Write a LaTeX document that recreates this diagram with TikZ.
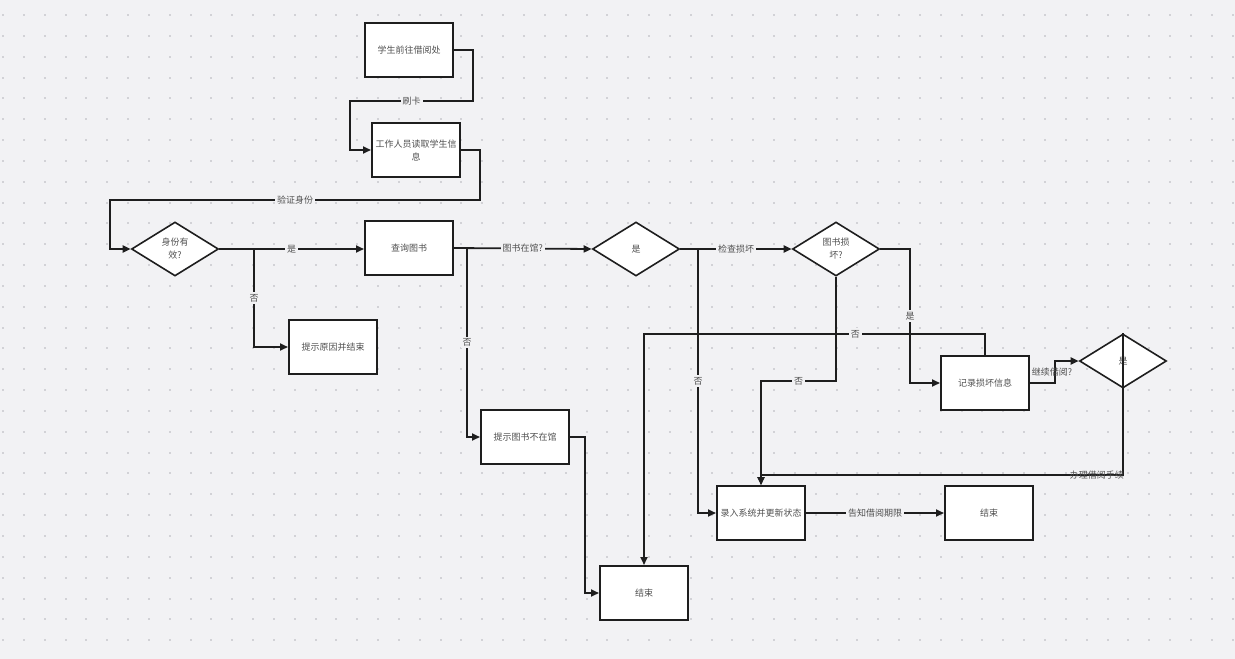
\documentclass[tikz,border=0pt]{standalone}
\usepackage{fontspec}
\newfontfamily\cjk{Noto Sans CJK SC}
\usetikzlibrary{shapes.geometric,arrows.meta}
\definecolor{bg}{HTML}{F2F2F4}
\definecolor{dotc}{HTML}{D2D2D6}
\definecolor{ink}{HTML}{1E1E1E}
\definecolor{txt}{HTML}{505050}

\begin{document}
\begin{tikzpicture}[x=1pt, y=-1pt, font=\cjk\fontsize{9}{13}\selectfont, text=txt,
    box/.style = {draw=ink, fill=white, line width=2pt, minimum width=88pt, minimum height=54pt, inner sep=1pt, align=center},
    dec/.style = {draw=ink, fill=white, diamond, line width=1.6pt, minimum width=87pt, minimum height=54pt, inner sep=0pt, align=center},
    lbl/.style = {fill=bg, inner sep=2pt},
    plain/.style = {inner sep=0pt},
    arr/.style = {draw=ink, line width=1.8pt, -{Triangle[length=8pt,width=7pt]}}]
            \useasboundingbox (0,0) rectangle (1235,659);
            \fill[bg] (0,0) rectangle (1235,659);
            \foreach \i in {0,...,59}
                \foreach \j in {0,...,30}
                    \fill[dotc] (2+20.84*\i, 14+20.84*\j) rectangle ++(2,2);
            % nodes
            \node[box] (go) at (409,50) {学生前往借阅处};
            \node[box] (read) at (416,150) {工作人员读取学生信\\息};
            \node[dec] (valid) at (175,249) {身份有\\效?};
            \node[box] (query) at (409,248) {查询图书};
            \node[box] (reason) at (333,347) {提示原因并结束};
            \node[dec] (inlib) at (636,249) {是};
            \node[box] (notin) at (525,437) {提示图书不在馆};
            \node[box] (end1) at (644,593) {结束};
            \node[dec] (broken) at (836,249) {图书损\\坏?};
            \node[box] (record) at (985,383) {记录损坏信息};
            \node[dec] (again) at (1123,361) {是};
            \node[box] (entry) at (761,513) {录入系统并更新状态};
            \node[box] (end2) at (989,513) {结束};
            % connectors
            \draw[arr] (go.east) -- (473,50) |- node[lbl, pos=0.75] {刷卡} (350,101) |- (read.west);
            \draw[arr] (read.east) -- (480,150) |- node[lbl, pos=0.75] {验证身份} (110,200) |- (valid.west);
            \draw[arr] (valid.east) -- node[lbl] {是} (query.west |- valid.east);
            \draw[arr] (valid.east) -- (254,249) |- node[lbl, pos=0.25] {否} (reason.west);
            \draw[arr] (query.east) -- node[lbl] {图书在馆?} (inlib.west);
            \draw[arr] (query.east) -- (467,248) |- node[lbl, pos=0.25] {否} (notin.west);
            \draw[arr] (notin.east) -- (585,437) |- (end1.west);
            \draw[arr] (inlib.east) -- node[lbl] {检查损坏} (broken.west);
            \draw[arr] (inlib.east) -- (698,249) |- node[lbl, pos=0.25] {否} (entry.west);
            \draw[arr] (broken.east) -- (910,249) |- node[lbl, pos=0.25] {是} (record.west);
            \draw[arr] (broken.south) |- node[lbl, pos=0.75] {否} (entry.north |- 0,381) -- (entry.north);
            \draw[arr] (record.north) |- node[lbl, pos=0.69] {否} (end1.north |- 0,334) -- (end1.north);
            \draw[arr] (record.east) -- (1055,383) |- (again.west);
            \node[plain] (ask) at (1052,372) {继续借阅?};
            \draw[arr] (again.north) -- (again.north |- 0,475) -| node[plain, pos=0.036] {办理借阅手续} (entry.north);
            \draw[arr] (entry.east) -- node[lbl] {告知借阅期限} (end2.west);
        \end{tikzpicture}
\end{document}
